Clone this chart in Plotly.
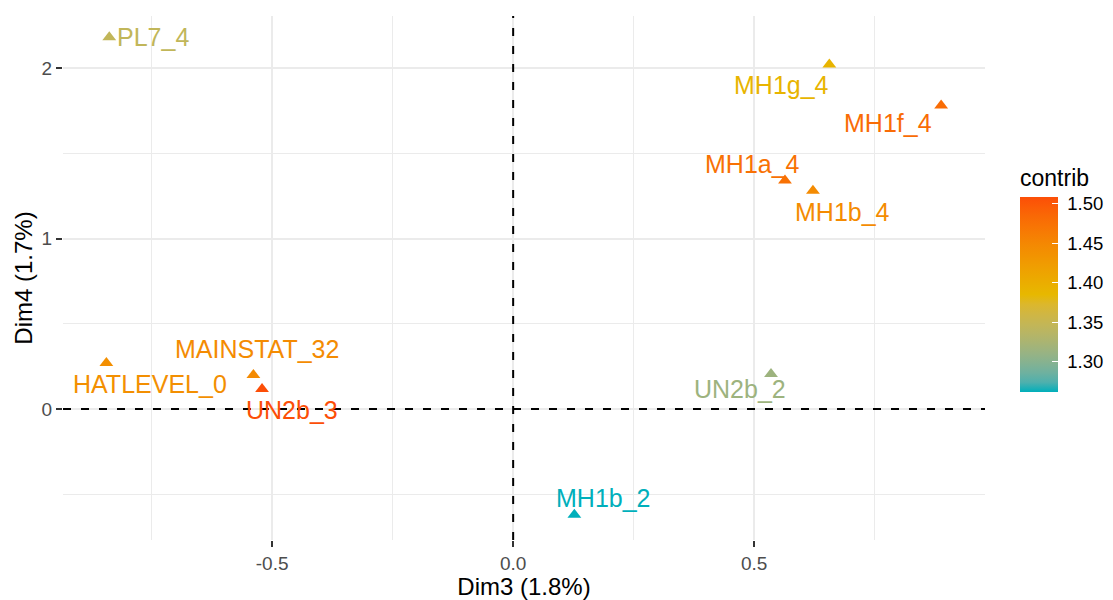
import plotly.graph_objects as go
from plotly.colors import sample_colorscale

# ---- data ----
labels = ["PL7_4", "HATLEVEL_0", "MAINSTAT_32", "UN2b_3", "MH1g_4",
          "MH1f_4", "MH1a_4", "MH1b_4", "UN2b_2", "MH1b_2"]
dim3 = [-0.838, -0.844, -0.539, -0.521, 0.656, 0.888, 0.564, 0.622, 0.535, 0.127]
dim4 = [2.18, 0.27, 0.20, 0.117, 2.02, 1.78, 1.34, 1.28, 0.205, -0.62]
contrib = [1.345, 1.44, 1.445, 1.508, 1.39, 1.48, 1.475, 1.445, 1.315, 1.262]

x_ticks = [-0.5, 0.0, 0.5]
x_ticktext = ["-0.5", "0.0", "0.5"]
y_ticks = [0, 1, 2]
cb_ticks = [1.30, 1.35, 1.40, 1.45, 1.50]

# label offsets (pixels: dx right, dy down) - styling for repelled labels
label_dx = [44, 44, 4, 30, -48, -53, -32, 30, -31, 29]
label_dy = [0, 21, -26, 21, 20, 17, -17, 21, 15, -17]

gradient_cols = ["#00AFBB", "#E7B800", "#FC4E07"]


# ---- Lab interpolation of the gradient (like ggplot's colour_ramp) ----
def _hex_to_lab(h):
    r, g, b = [int(h[i:i + 2], 16) / 255 for i in (1, 3, 5)]
    def lin(c):
        return c / 12.92 if c <= 0.04045 else ((c + 0.055) / 1.055) ** 2.4
    r, g, b = lin(r), lin(g), lin(b)
    X = (0.4124 * r + 0.3576 * g + 0.1805 * b) / 0.95047
    Y = (0.2126 * r + 0.7152 * g + 0.0722 * b)
    Z = (0.0193 * r + 0.1192 * g + 0.9505 * b) / 1.08883
    def f(t):
        return t ** (1 / 3) if t > 0.008856 else 7.787 * t + 16 / 116
    fx, fy, fz = f(X), f(Y), f(Z)
    return (116 * fy - 16, 500 * (fx - fy), 200 * (fy - fz))


def _lab_to_rgb(L, a, b):
    fy = (L + 16) / 116
    fx = fy + a / 500
    fz = fy - b / 200
    def finv(t):
        return t ** 3 if t ** 3 > 0.008856 else (t - 16 / 116) / 7.787
    X, Y, Z = finv(fx) * 0.95047, finv(fy), finv(fz) * 1.08883
    r = 3.2406 * X - 1.5372 * Y - 0.4986 * Z
    g = -0.9689 * X + 1.8758 * Y + 0.0415 * Z
    bb = 0.0557 * X - 0.2040 * Y + 1.0570 * Z
    def gam(c):
        c = max(0.0, min(1.0, c))
        return 12.92 * c if c <= 0.0031308 else 1.055 * c ** (1 / 2.4) - 0.055
    return "rgb(%d,%d,%d)" % tuple(round(gam(c) * 255) for c in (r, g, bb))


labs = [_hex_to_lab(h) for h in gradient_cols]
N = 20
cscale = []
for i in range(N + 1):
    t = i / N
    seg = min(int(t * 2), 1)
    u = t * 2 - seg
    l0, l1 = labs[seg], labs[seg + 1]
    lab = [l0[k] + (l1[k] - l0[k]) * u for k in range(3)]
    cscale.append([t, _lab_to_rgb(*lab)])

cmin, cmax = min(contrib), max(contrib)
norm = [(c - cmin) / (cmax - cmin) for c in contrib]
colors = sample_colorscale(cscale, norm)

FONT = "Liberation Sans, Arial, sans-serif"

fig = go.Figure()
fig.add_trace(go.Scatter(
    x=dim3, y=dim4, mode="markers",
    marker=dict(symbol="triangle-up", size=12, color=contrib, colorscale=cscale,
                cmin=cmin, cmax=cmax,
                colorbar=dict(
                    title=dict(text="contrib", side="top",
                               font=dict(size=23, color="black", family=FONT)),
                    x=1.038, xanchor="left", xpad=0, y=0.498, yanchor="middle",
                    thickness=38, len=226, lenmode="pixels",
                    tickvals=cb_ticks,
                    ticktext=["\u00a0%.2f" % v for v in cb_ticks],
                    ticks="inside", ticklen=6, tickcolor="white", tickwidth=1,
                    tickfont=dict(size=18.5, color="black", family=FONT),
                    outlinewidth=0, ypad=0,
                )),
    showlegend=False, hoverinfo="text", text=labels,
))

for lab, x, y, dx, dy, col in zip(labels, dim3, dim4, label_dx, label_dy, colors):
    fig.add_annotation(x=x, y=y, text=lab, showarrow=False, xshift=dx, yshift=-dy,
                       font=dict(size=25, color=col, family=FONT))

fig.add_shape(type="line", xref="x", yref="paper", x0=0, x1=0, y0=0, y1=1,
              line=dict(color="black", width=2, dash="8px,10px"), layer="above")
fig.add_shape(type="line", xref="paper", yref="y", x0=0, x1=1, y0=0, y1=0,
              line=dict(color="black", width=2, dash="8px,10px"), layer="above")

# the page body has an 8px margin, so the figure is sized to end at 1113x600
fig.update_layout(
    width=1105, height=592,
    margin=dict(l=55, r=128, t=8, b=60, autoexpand=False),
    paper_bgcolor="white", plot_bgcolor="white",
    font=dict(family=FONT),
    xaxis=dict(range=[-0.934, 0.979], tickvals=x_ticks, ticktext=x_ticktext,
               showgrid=True, gridcolor="#EBEBEB", gridwidth=2, zeroline=False,
               ticks="outside", ticklen=6, tickcolor="#333333", tickwidth=1.5,
               tickfont=dict(size=19, color="#4D4D4D"),
               minor=dict(dtick=0.25, tick0=0, showgrid=True, gridcolor="#EBEBEB",
                          gridwidth=1, ticks=""),
               title=dict(text="Dim3 (1.8%)", font=dict(size=24, color="black"), standoff=4),
               automargin=False, showline=False),
    yaxis=dict(range=[-0.768, 2.305], tickvals=y_ticks,
               showgrid=True, gridcolor="#EBEBEB", gridwidth=2, zeroline=False,
               ticks="outside", ticklen=6, tickcolor="#333333", tickwidth=1.5,
               tickfont=dict(size=19, color="#4D4D4D"),
               minor=dict(dtick=0.5, tick0=0, showgrid=True, gridcolor="#EBEBEB",
                          gridwidth=1, ticks=""),
               title=dict(text="Dim4 (1.7%)", font=dict(size=24, color="black"), standoff=2),
               automargin=False, showline=False),
)

fig.write_html("out.html")
